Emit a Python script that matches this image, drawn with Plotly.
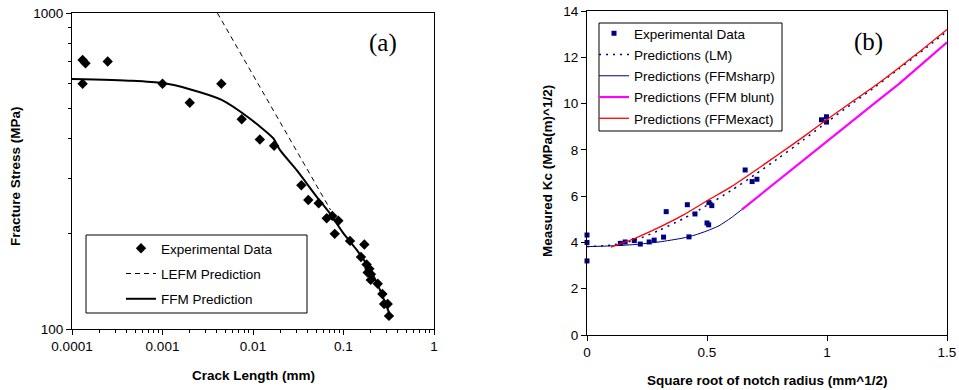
import plotly.graph_objects as go

# ---------------- Panel (a) data ----------------
exp_a_x = [0.000131, 0.000141, 0.000131, 0.000248, 0.001, 0.002, 0.00447, 0.0075, 0.0119, 0.0171,
           0.0342, 0.0408, 0.0532, 0.0652, 0.0752, 0.080, 0.0877, 0.118, 0.170, 0.156,
           0.180, 0.193, 0.185, 0.201, 0.200, 0.239, 0.269, 0.281, 0.308, 0.318]
exp_a_y = [710, 693, 597, 702, 597, 520, 597, 461, 398, 380,
           285, 256, 250, 224, 228, 200, 220, 190, 185, 169,
           160, 155, 151, 149, 143, 139, 129, 120, 120, 110]

lefm_x = [0.00404, 0.072]
lefm_y = [1000, 238]

ffm_x = [0.0001, 0.000457, 0.001, 0.002, 0.0045, 0.0089, 0.0168, 0.0199, 0.0304, 0.0506,
         0.071, 0.0995, 0.140, 0.197, 0.253, 0.321]
ffm_y = [618, 610, 600, 574, 531, 467, 401, 368, 318, 262,
         232, 201, 178, 154, 133, 112]

a_xtickvals = [0.0001, 0.001, 0.01, 0.1, 1]
a_xticktext = ["0.0001", "0.001", "0.01", "0.1", "1"]
a_ytickvals = [100, 1000]
a_yticktext = ["100", "1000"]

# ---------------- Panel (b) data ----------------
exp_b_x = [0, 0, 0, 0.139, 0.159, 0.197, 0.222, 0.259, 0.280, 0.319, 0.330, 0.418, 0.425,
           0.450, 0.500, 0.507, 0.508, 0.520, 0.659, 0.688, 0.708, 0.977, 0.998, 0.998]
exp_b_y = [4.32, 4.00, 3.20, 3.96, 4.02, 4.08, 3.93, 4.02, 4.10, 4.23, 5.33, 5.63, 4.24,
           5.23, 4.84, 4.76, 5.72, 5.59, 7.13, 6.63, 6.73, 9.30, 9.43, 9.20]

lm_x = [0, 0.1, 0.2, 0.3, 0.4, 0.5, 0.6, 0.7, 0.8, 0.9, 1.0, 1.1, 1.2, 1.3, 1.4, 1.5]
lm_y = [3.82, 3.88, 4.10, 4.52, 5.02, 5.60, 6.24, 6.93, 7.66, 8.42, 9.20, 9.96, 10.72, 11.50, 12.30, 13.12]

sharp_x = [0, 0.1, 0.2, 0.3, 0.4, 0.45, 0.5, 0.55, 0.6, 0.645]
sharp_y = [3.82, 3.85, 3.91, 4.02, 4.19, 4.32, 4.50, 4.72, 5.06, 5.42]

blunt_x = [0.645, 0.75, 0.9, 1.0, 1.1, 1.2, 1.3, 1.4, 1.5]
blunt_y = [5.42, 6.30, 7.55, 8.38, 9.20, 10.03, 10.85, 11.75, 12.65]

exact_x = [0.1, 0.2, 0.3, 0.4, 0.5, 0.6, 0.7, 0.8, 0.9, 1.0, 1.1, 1.2, 1.3, 1.4, 1.5]
exact_y = [3.80, 4.18, 4.65, 5.18, 5.80, 6.40, 7.10, 7.82, 8.55, 9.31, 10.05, 10.77, 11.55, 12.36, 13.20]

b_xtickvals = [0, 0.5, 1, 1.5]
b_xticktext = ["0", "0.5", "1", "1.5"]
b_ytickvals = [0, 2, 4, 6, 8, 10, 12, 14]

W, H = 959, 390
def px(x):
    return x / W
def py(y):
    return 1 - y / H

FONT = "Liberation Sans, Arial, sans-serif"
FS = 13.5
NAVY = "#000080"

fig = go.Figure()

# panel (a)
fig.add_trace(go.Scatter(x=exp_a_x, y=exp_a_y, mode="markers", name="Experimental Data",
                         marker=dict(symbol="diamond", size=8, color="black"),
                         xaxis="x", yaxis="y", legend="legend", legendgroup="a1", cliponaxis=False))
fig.add_trace(go.Scatter(x=lefm_x, y=lefm_y, mode="lines", name="LEFM Prediction",
                         line=dict(color="black", width=1, dash="5px,4px"),
                         xaxis="x", yaxis="y", legend="legend", legendgroup="a2"))
fig.add_trace(go.Scatter(x=ffm_x, y=ffm_y, mode="lines", name="FFM Prediction",
                         line=dict(color="black", width=2, shape="spline", smoothing=0.6),
                         xaxis="x", yaxis="y", legend="legend", legendgroup="a3"))

# panel (b)
fig.add_trace(go.Scatter(x=exp_b_x, y=exp_b_y, mode="markers", name="Experimental Data",
                         marker=dict(symbol="square", size=5, color=NAVY),
                         xaxis="x2", yaxis="y2", legend="legend2", legendgroup="b1", cliponaxis=False))
fig.add_trace(go.Scatter(x=lm_x, y=lm_y, mode="lines", name="Predictions (LM)",
                         line=dict(color=NAVY, width=1.5, dash="2px,5px", shape="spline", smoothing=0.6),
                         xaxis="x2", yaxis="y2", legend="legend2", legendgroup="b2"))
fig.add_trace(go.Scatter(x=sharp_x, y=sharp_y, mode="lines", name="Predictions (FFMsharp)",
                         line=dict(color=NAVY, width=1, shape="spline", smoothing=0.6),
                         xaxis="x2", yaxis="y2", legend="legend2", legendgroup="b3"))
fig.add_trace(go.Scatter(x=blunt_x, y=blunt_y, mode="lines", name="Predictions (FFM blunt)",
                         line=dict(color="#ff00ff", width=2.2),
                         xaxis="x2", yaxis="y2", legend="legend2", legendgroup="b4"))
fig.add_trace(go.Scatter(x=exact_x, y=exact_y, mode="lines", name="Predictions (FFMexact)",
                         line=dict(color="#ff0000", width=1.3, shape="spline", smoothing=0.6),
                         xaxis="x2", yaxis="y2", legend="legend2", legendgroup="b5"))

axis_common = dict(showline=True, linecolor="black", linewidth=1, mirror=True,
                   showgrid=False, zeroline=False, ticks="outside", ticklen=5,
                   tickcolor="black", ticklabeloverflow="allow", automargin=False,
                   tickfont=dict(family=FONT, size=FS, color="black"))
minor_log = dict(ticks="outside", ticklen=3, tickcolor="black", showgrid=False, dtick="D1")

title_font = dict(family=FONT, size=FS, color="black", weight="bold")
serif_font = dict(family="Liberation Serif, Times New Roman, serif", size=25, color="black")

def note(text, x, y, font, angle=0):
    return dict(text=text, x=px(x), y=py(y), xref="paper", yref="paper", showarrow=False,
                xanchor="center", yanchor="middle", textangle=angle, font=font)

fig.update_layout(
    width=W, height=H, autosize=False,
    margin=dict(l=0, r=0, t=0, b=0, pad=0, autoexpand=False),
    paper_bgcolor="white", plot_bgcolor="white",
    font=dict(family=FONT, size=FS, color="black"),
    xaxis=dict(type="log", range=[-4, 0], domain=[px(72), px(434)], anchor="y",
               tickvals=a_xtickvals, ticktext=a_xticktext, minor=minor_log, **axis_common),
    yaxis=dict(type="log", range=[2, 3], domain=[py(329), py(13)], anchor="x",
               tickvals=a_ytickvals, ticktext=a_yticktext, minor=minor_log, **axis_common),
    xaxis2=dict(range=[0, 1.5], domain=[px(587), px(947)], anchor="y2",
                tickvals=b_xtickvals, ticktext=b_xticktext, **axis_common),
    yaxis2=dict(range=[0, 14], domain=[py(335), py(11)], anchor="x2",
                tickvals=b_ytickvals, **axis_common),
    legend=dict(x=px(121), y=py(233), xanchor="left", yanchor="top",
                bgcolor="rgba(0,0,0,0)", borderwidth=0, tracegroupgap=4.7,
                font=dict(family=FONT, size=FS, color="black")),
    legend2=dict(x=px(594), y=py(18), xanchor="left", yanchor="top",
                 bgcolor="rgba(0,0,0,0)", borderwidth=0, tracegroupgap=0.7,
                 font=dict(family=FONT, size=FS, color="black")),
    shapes=[
        dict(type="rect", xref="paper", yref="paper", x0=px(86), x1=px(307), y0=py(313), y1=py(235),
             line=dict(color="black", width=1), fillcolor="rgba(0,0,0,0)", layer="below"),
        dict(type="rect", xref="paper", yref="paper", x0=px(599), x1=px(782), y0=py(131), y1=py(23),
             line=dict(color="black", width=1), fillcolor="rgba(0,0,0,0)", layer="below"),
    ],
    annotations=[
        note("Fracture Stress (MPa)", 16, 176, title_font, -90),
        note("Crack Length (mm)", 253, 375, title_font),
        note("Measured Kc (MPa(m)^1/2)", 547, 171, title_font, -90),
        note("Square root of notch radius (mm^1/2)", 767, 380, title_font),
        note("(a)", 383, 43, serif_font),
        note("(b)", 868, 42, serif_font),
    ],
)

fig.write_html("out.html", config={"displayModeBar": False},
               post_script="document.body.style.margin='0';document.body.style.overflow='hidden';")
